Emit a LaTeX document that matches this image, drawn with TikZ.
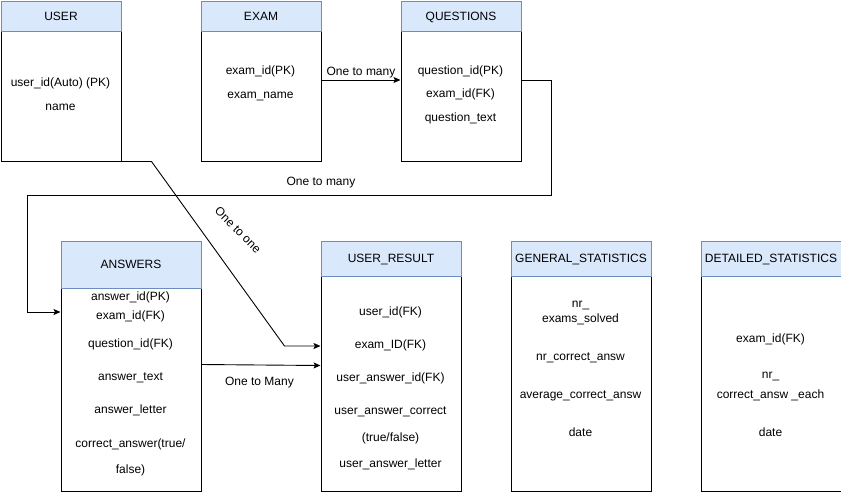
\documentclass[tikz,border=0pt]{standalone}
\usepackage{fontspec}
\setmainfont{Liberation Sans}
\usetikzlibrary{calc,arrows.meta}
\definecolor{hdrfill}{HTML}{DAE8FC}
\definecolor{hdrline}{HTML}{6C8EBF}
\begin{document}
\begin{tikzpicture}[x=1pt,y=-1pt,
  every node/.style={font=\fontsize{12}{14}\selectfont},
  hdr/.style={draw=hdrline, fill=hdrfill, line width=1pt, anchor=north west,
    inner sep=0pt, text height=8.6pt, text depth=0pt},
  tbody/.style={draw=black, fill=white, line width=1pt, anchor=north west, inner sep=0pt},
  fld/.style={anchor=base, inner sep=0pt},
  lbl/.style={anchor=base, inner sep=0pt},
  link/.style={draw=black, line width=0.9pt, -{Stealth[length=7pt,width=6pt,inset=1.5pt]}}]
\useasboundingbox (0,0) rectangle (841,499);

% ---- USER ----
\node[tbody, minimum width=120pt, minimum height=130pt] (userbody) at (0.5,30.5) {};
\node[hdr, minimum width=120pt, minimum height=30pt] (userhdr) at (0.5,0.5) {USER};
\node[fld] (u1) at (60.5,86) {user\_id(Auto) (PK)};
\node[fld] (u2) at (60.5,110) {name};

% ---- EXAM ----
\node[tbody, minimum width=120pt, minimum height=130pt] (exambody) at (200.5,30.5) {};
\node[hdr, minimum width=120pt, minimum height=30pt] (examhdr) at (200.5,0.5) {EXAM};
\node[fld] (e1) at (260.5,74) {exam\_id(PK)};
\node[fld] (e2) at (260.5,98) {exam\_name};

% ---- QUESTIONS ----
\node[tbody, minimum width=120pt, minimum height=130pt] (qbody) at (400.5,30.5) {};
\node[hdr, minimum width=120pt, minimum height=30pt] (qhdr) at (400.5,0.5) {QUESTIONS};
\node[fld] (q1) at (460.5,74) {question\_id(PK)};
\node[fld] (q2) at (460.5,97) {exam\_id(FK)};
\node[fld] (q3) at (460.5,121) {question\_text};

% ---- ANSWERS ----
\node[tbody, minimum width=140pt, minimum height=203pt] (ansbody) at (60.5,287.5) {};
\node[hdr, minimum width=140pt, minimum height=47pt] (anshdr) at (60.5,240.5) {ANSWERS};
\node[fld] (a1) at (130.5,300.5) {answer\_id(PK)};
\node[fld] (a2) at (130.5,319.5) {exam\_id(FK)};
\node[fld] (a3) at (130.5,347) {question\_id(FK)};
\node[fld] (a4) at (130.5,380) {answer\_text};
\node[fld] (a5) at (130.5,413) {answer\_letter};
\node[fld] (a6) at (130.5,447) {correct\_answer(true/};
\node[fld] (a7) at (130.5,473) {false)};

% ---- USER_RESULT ----
\node[tbody, minimum width=140pt, minimum height=215pt] (resbody) at (320.5,275.5) {};
\node[hdr, minimum width=140pt, minimum height=35pt] (reshdr) at (320.5,240.5) {USER\_RESULT};
\node[fld] (r1) at (390.5,315) {user\_id(FK)};
\node[fld] (r2) at (390.5,348) {exam\_ID(FK)};
\node[fld] (r3) at (390.5,381) {user\_answer\_id(FK)};
\node[fld] (r4) at (390.5,414) {user\_answer\_correct};
\node[fld] (r5) at (390.5,441) {(true/false)};
\node[fld] (r6) at (390.5,467) {user\_answer\_letter};

% ---- GENERAL_STATISTICS ----
\node[tbody, minimum width=140pt, minimum height=215pt] (genbody) at (510.5,275.5) {};
\node[hdr, minimum width=140pt, minimum height=35pt] (genhdr) at (510.5,240.5) {GENERAL\_STATISTICS};
\node[fld] (g1) at (580.5,307) {nr\_};
\node[fld] (g2) at (580.5,322) {exams\_solved};
\node[fld] (g3) at (580.5,360) {nr\_correct\_answ};
\node[fld] (g4) at (580.5,398) {average\_correct\_answ};
\node[fld] (g5) at (580.5,436) {date};

% ---- DETAILED_STATISTICS ----
\node[tbody, minimum width=140pt, minimum height=215pt] (detbody) at (700.5,275.5) {};
\node[hdr, minimum width=140pt, minimum height=35pt] (dethdr) at (700.5,240.5) {DETAILED\_STATISTICS};
\node[fld] (d1) at (770.5,342) {exam\_id(FK)};
\node[fld] (d2) at (770.5,378) {nr\_};
\node[fld] (d3) at (770.5,398) {correct\_answ \_each};
\node[fld] (d4) at (770.5,436) {date};

% ---- relations ----
% EXAM -> QUESTIONS
\draw[link] ($(exambody.north east)+(0,49.5)$) -- ($(qbody.north west)+(0,49.5)$);
\node[lbl] (l1) at (361,75) {One to many};

% QUESTIONS -> ANSWERS
\draw[link] ($(qbody.north east)+(0,49.5)$) -- ++(30,0) -- ++(0,115.5) -- ++(-524,0)
  |- ($(ansbody.north west)+(0,24.5)$);
\node[lbl] (l2) at (321,185) {One to many};

% USER -> USER_RESULT
\draw[link] (userbody.south east) -- ++(30,0) -- ($(resbody.north west)+(-36,70.5)$)
  -- ($(resbody.north west)+(0,70.5)$);
\node[inner sep=0pt, rotate=-45] (l3) at (238,230) {One to one};

% ANSWERS -> USER_RESULT
\draw[link] ($(ansbody.north east)+(0,77)$) -- ($(resbody.north west)+(0,90)$);
\node[lbl] (l4) at (259.5,385) {One to Many};
\end{tikzpicture}
\end{document}
